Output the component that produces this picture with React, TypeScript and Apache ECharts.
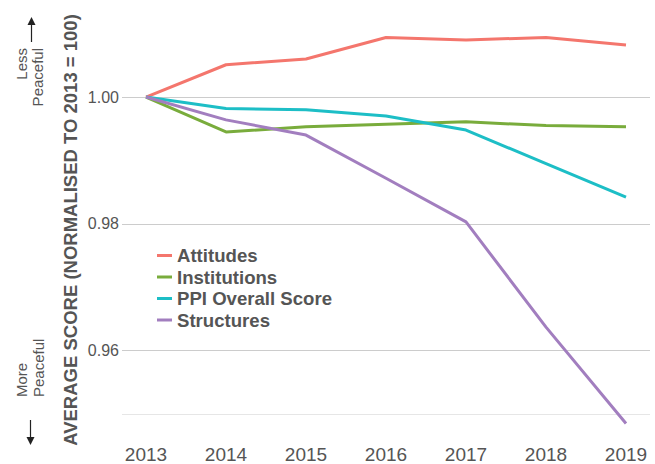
import React, { useEffect, useRef } from "react";
import * as echarts from "echarts";

const years = ["2013", "2014", "2015", "2016", "2017", "2018", "2019"];
const attitudes = [1.0, 1.0051, 1.006, 1.0094, 1.009, 1.0094, 1.0082];
const institutions = [1.0, 0.9945, 0.9953, 0.9957, 0.9961, 0.9955, 0.9953];
const ppiOverall = [1.0, 0.9982, 0.998, 0.997, 0.9948, 0.9895, 0.9842];
const structures = [1.0, 0.9964, 0.994, 0.9872, 0.9803, 0.9637, 0.9485];
const seriesNames = ["Attitudes", "Institutions", "PPI Overall Score", "Structures"];
const seriesColors = ["#F4766D", "#79AC3C", "#1DBEC6", "#A27EBF"];
const yLabelValues = [0.96, 0.98, 1.0];

const FONT = "Liberation Sans, Arial, Helvetica, sans-serif";
const GREY = "#555555";

function sideText(text: string, x: number, y: number, align: string) {
  return {
    type: "text",
    x,
    y,
    rotation: Math.PI / 2,
    style: {
      text,
      fill: GREY,
      fontSize: 15,
      fontFamily: FONT,
      align,
      verticalAlign: "middle",
    },
  };
}

export default function App() {
  const ref = useRef<HTMLDivElement>(null);
  useEffect(() => {
    if (!ref.current) return;
    const chart = echarts.init(ref.current, undefined, { renderer: "svg" });
    const yMin = 0.95;
    const yMax = 1.012;
    const allData = [attitudes, institutions, ppiOverall, structures];
    chart.setOption({
      animation: false,
      backgroundColor: "#ffffff",
      textStyle: { fontFamily: FONT },
      grid: [
        { left: 122, right: 5, top: 21, bottom: 50 },
        { left: 146, right: 29, top: 21, bottom: 50 },
      ],
      xAxis: [
        {
          gridIndex: 0,
          type: "value",
          min: 0,
          max: 1,
          show: false,
        },
        {
          gridIndex: 1,
          type: "category",
          data: years,
          boundaryGap: false,
          axisLine: { show: false },
          axisTick: { show: false },
          splitLine: { show: false },
          axisLabel: { color: GREY, fontSize: 19, margin: 31, fontFamily: FONT },
        },
      ],
      yAxis: [
        {
          gridIndex: 0,
          type: "value",
          min: yMin,
          max: yMax,
          interval: 0.01,
          axisLine: { show: false },
          axisTick: { show: false },
          axisLabel: {
            color: GREY,
            fontSize: 16,
            margin: 3,
            fontFamily: FONT,
            formatter: (v: number) => {
              const r = Math.round(v * 100);
              return yLabelValues.some((t) => Math.round(t * 100) === r) && Math.abs(v * 100 - r) < 1e-6
                ? (r / 100).toFixed(2)
                : "";
            },
          },
          splitLine: {
            show: true,
            lineStyle: {
              width: 1,
              color: ["#e6e6e6", "#cccccc", "rgba(0,0,0,0)", "#cccccc", "rgba(0,0,0,0)", "#cccccc", "rgba(0,0,0,0)", "rgba(0,0,0,0)"],
            },
          },
        },
        {
          gridIndex: 1,
          type: "value",
          min: yMin,
          max: yMax,
          show: false,
          splitLine: { show: false },
        },
      ],
      legend: {
        orient: "vertical",
        left: 152,
        top: 241,
        icon: "rect",
        itemWidth: 15,
        itemHeight: 3,
        itemGap: 2.5,
        data: seriesNames,
        textStyle: { color: GREY, fontSize: 18.6, fontWeight: "bold", lineHeight: 19, fontFamily: FONT },
      },
      series: seriesNames.map((name, i) => ({
        name,
        type: "line",
        xAxisIndex: 1,
        yAxisIndex: 1,
        data: allData[i],
        showSymbol: false,
        symbol: "none",
        clip: false,
        lineStyle: { color: seriesColors[i], width: 3 },
        itemStyle: { color: seriesColors[i] },
        z: 3,
      })),
      graphic: [
        {
          type: "text",
          x: 70,
          y: 230,
          rotation: Math.PI / 2,
          style: {
            text: "AVERAGE SCORE (NORMALISED TO 2013 = 100)",
            fill: GREY,
            fontSize: 18.5,
            fontWeight: "bold",
            fontFamily: FONT,
            align: "center",
            verticalAlign: "middle",
          },
        },
        sideText("Less", 21, 48, "right"),
        sideText("Peaceful", 37, 48, "right"),
        sideText("More", 21, 397, "left"),
        sideText("Peaceful", 38, 397, "left"),
        {
          type: "line",
          shape: { x1: 31.5, y1: 42, x2: 31.5, y2: 23 },
          style: { stroke: "#222222", lineWidth: 1.2 },
        },
        {
          type: "polygon",
          shape: { points: [[31.5, 17], [27.5, 25], [35.5, 25]] },
          style: { fill: "#222222" },
        },
        {
          type: "line",
          shape: { x1: 30.5, y1: 420, x2: 30.5, y2: 439 },
          style: { stroke: "#222222", lineWidth: 1.2 },
        },
        {
          type: "polygon",
          shape: { points: [[30.5, 445], [26.5, 437], [34.5, 437]] },
          style: { fill: "#222222" },
        },
      ],
    });
    return () => chart.dispose();
  }, []);
  return (
    <div
      ref={ref}
      style={{ position: "absolute", left: 0, top: 0, width: 655, height: 464 }}
    />
  );
}
